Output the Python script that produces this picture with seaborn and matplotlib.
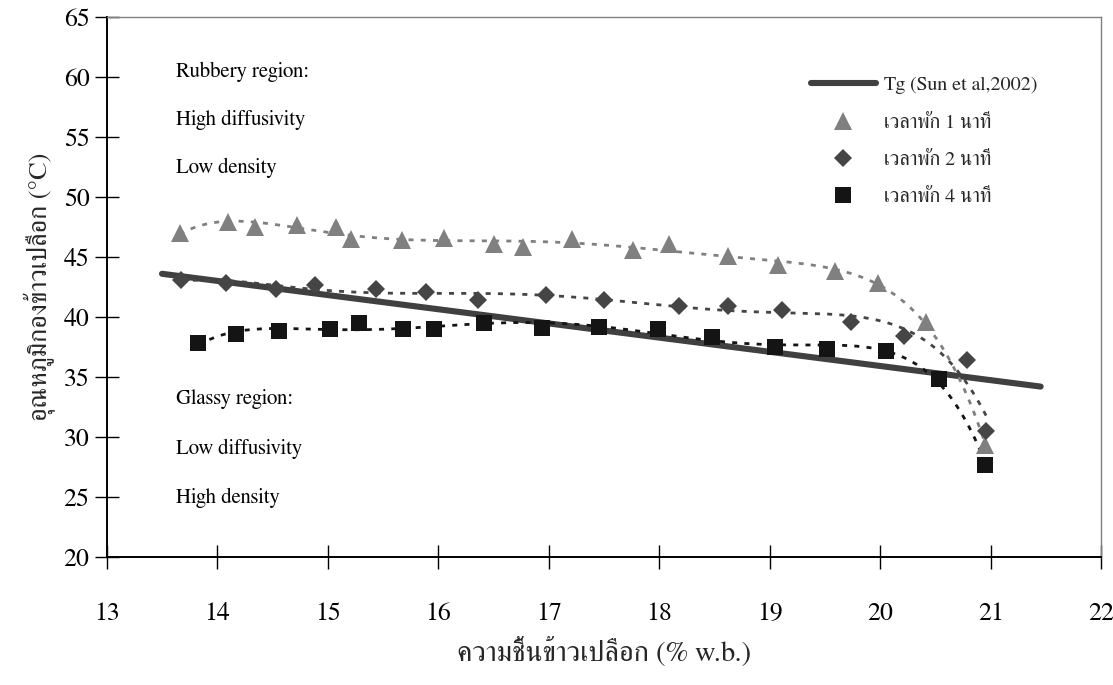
import numpy as np
import pandas as pd
import matplotlib
matplotlib.use("Agg")
import matplotlib.pyplot as plt
import seaborn as sns
from matplotlib.lines import Line2D

# Paddy moisture (% w.b.) and pile temperature (°C) for each tempering time
moist_1min = [13.66, 14.10, 14.34, 14.72, 15.07, 15.21, 15.67, 16.05, 16.50, 16.77,
              17.21, 17.76, 18.09, 18.62, 19.07, 19.59, 19.98, 20.41, 20.95]
temp_1min = [47.0, 47.9, 47.5, 47.7, 47.5, 46.5, 46.4, 46.6, 46.1, 45.8,
             46.5, 45.6, 46.1, 45.1, 44.3, 43.8, 42.8, 39.6, 29.3]

moist_2min = [13.67, 14.08, 14.53, 14.88, 15.44, 15.89, 16.36, 16.97, 17.50, 18.18,
              18.62, 19.11, 19.73, 20.21, 20.78, 20.96]
temp_2min = [43.1, 42.8, 42.3, 42.7, 42.3, 42.1, 41.4, 41.8, 41.4, 40.9,
             40.9, 40.6, 39.6, 38.4, 36.4, 30.5]

moist_4min = [13.83, 14.17, 14.56, 15.02, 15.28, 15.68, 15.96, 16.41, 16.94, 17.45,
              17.99, 18.48, 19.05, 19.52, 20.05, 20.53, 20.95]
temp_4min = [37.8, 38.6, 38.8, 39.0, 39.5, 39.0, 39.0, 39.5, 39.1, 39.2,
             39.0, 38.3, 37.5, 37.3, 37.2, 34.8, 27.7]

# Glass transition line (Sun et al, 2002)
tg_moist = [13.5, 21.45]
tg_temp = [43.6, 34.2]

series_labels = ["เวลาพัก 1 นาที", "เวลาพัก 2 นาที", "เวลาพัก 4 นาที"]
tg_label = "Tg (Sun et al,2002)"
x_ticks = list(range(13, 23))
y_ticks = list(range(20, 70, 5))

sns.set_style("white")
plt.rcParams["font.family"] = ["FreeSerif", "DejaVu Sans"]

fig = plt.figure(figsize=(11.13, 6.85), dpi=100)
ax = fig.add_axes([0.0959, 0.1869, 0.8937, 0.7883])

# Tg line
sns.lineplot(x=tg_moist, y=tg_temp, ax=ax, color="#404040", linewidth=4.4,
             solid_capstyle="round", zorder=2)

styles = [
    dict(x=moist_1min, y=temp_1min, color="#808080", marker="^", size=13.5),
    dict(x=moist_2min, y=temp_2min, color="#454545", marker="D", size=9.0),
    dict(x=moist_4min, y=temp_4min, color="#141414", marker="s", size=11.5),
]

# 6th-order polynomial trend lines
for st in styles:
    xs = np.asarray(st["x"])
    poly = np.polynomial.Polynomial.fit(xs, np.asarray(st["y"]), 6)
    grid = np.linspace(xs.min(), xs.max(), 300)
    trend = pd.DataFrame({"m": grid, "t": poly(grid)})
    sns.lineplot(data=trend, x="m", y="t", ax=ax, color=st["color"], linewidth=2.0,
                 linestyle=(0, (1.8, 2.6)), zorder=3)

# Measured points
for i, st in enumerate(styles):
    pts = pd.DataFrame({"m": st["x"], "t": st["y"]})
    ax.plot(pts["m"], pts["t"], linestyle="none", marker=st["marker"],
            markersize=st["size"], color=st["color"], markeredgewidth=0, zorder=4 + i)

ax.set_xlim(13, 22)
ax.set_ylim(20, 65)
ax.set_xticks(x_ticks)
ax.set_yticks(y_ticks)
ax.tick_params(axis="both", which="major", bottom=True, left=True, direction="inout",
               length=17, width=1.0, color="#000000", labelsize=18.5, labelcolor="#000000")
ax.tick_params(axis="x", pad=24)
ax.tick_params(axis="y", pad=4)

for side in ["left", "bottom"]:
    ax.spines[side].set_color("#000000")
    ax.spines[side].set_linewidth(1.4)
for side in ["top", "right"]:
    ax.spines[side].set_color("#808080")
    ax.spines[side].set_linewidth(1.0)
ax.grid(False)

ax.set_xlabel("ความชื้นข้าวเปลือก (% w.b.)", fontsize=20.5, labelpad=8)
ax.set_ylabel("อุณหภูมิกองข้าวเปลือก (°C)", fontsize=19, labelpad=6)

# Region notes
txt_kw = dict(fontsize=15, ha="left", va="center", color="#000000")
for yv, s in zip([60.4, 56.4, 52.4], ["Rubbery region:", "High diffusivity", "Low density"]):
    ax.text(13.63, yv, s, **txt_kw)
for yv, s in zip([33.2, 29.0, 24.9], ["Glassy region:", "Low diffusivity", "High density"]):
    ax.text(13.63, yv, s, **txt_kw)

handles = [Line2D([], [], color="#404040", linewidth=4.4)]
for st in styles:
    handles.append(Line2D([], [], linestyle="none", marker=st["marker"],
                          markersize=st["size"], color=st["color"], markeredgewidth=0))
ax.legend(handles, [tg_label] + series_labels, loc="upper left",
          bbox_to_anchor=(0.70, 0.905), frameon=False, fontsize=14.5,
          handlelength=3.2, handletextpad=0.4, labelspacing=0.95, borderaxespad=0)

fig.savefig("out.png", dpi=100)
